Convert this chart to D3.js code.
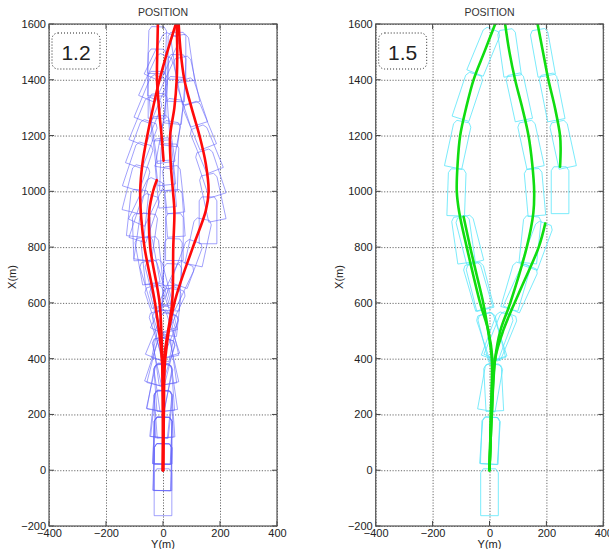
<!DOCTYPE html>
<html>
<head>
<meta charset="utf-8">
<script src="https://cdn.jsdelivr.net/npm/d3@7"></script>
<style>
  body { margin: 0; background: #fff; }
  text { font-family: "Liberation Sans", Arial, Helvetica, sans-serif; }
</style>
</head>
<body>
<svg id="chart" width="609" height="549"></svg>
<script>
// Axis ticks (metres)
const yTicks = [-400, -200, 0, 200, 400];
const xTicks = [-200, 0, 200, 400, 600, 800, 1000, 1200, 1400, 1600];

// Ship hull outline in body axes: [along (m, + forward from bow), across (m)]
const hull = [[0, -22], [-14, -31], [-168, -31], [-168, 31], [-14, 31], [0, 22]];

// ---- Case 1.2 : track points [Y (m), X (m)] ----
const redLeftArc   = [[0,0],[0,200],[-4,400],[-28,600],[-65,800],[-76,900],[-80,1000],[-72,1100],[-55,1200],[-35,1300],[-12,1400],[15,1500],[45,1600]];
const redRightArc  = [[0,0],[3,200],[8,400],[40,600],[105,800],[150,930],[160,1000],[150,1100],[128,1200],[100,1300],[75,1400],[62,1500],[55,1600]];
const redShort     = [[0,0],[0,200],[-3,400],[-12,600],[-45,800],[-48,930],[-35,1000],[-22,1040]];
const redInner     = [[0,0],[1,200],[4,400],[32,600],[36,800],[40,930],[35,1000],[27,1100],[25,1200],[40,1300],[48,1400],[50,1500],[48,1600]];
const redUpper     = [[2,1110],[-5,1200],[-12,1274],[-21,1400],[-20,1500],[-18,1600]];

// Hull stations for case 1.2: [Y (m), X (m) of bow, heading (deg, from +X toward +Y)]
const blueHulls = [
  [0,5,0],
  // left arc
  [0,95,0],[0,190,0],[-1,285,-4],[-3,380,-8],[-10,475,-12],[-23,570,-18],[-38,660,-18],[-55,750,-16],
  [-70,835,-10],[-77,920,-2],[-80,1005,6],[-73,1090,14],[-61,1170,18],[-45,1250,20],[-28,1330,22],
  [-10,1410,22],[11,1485,24],[33,1560,25],
  // right arc
  [1,95,2],[3,190,3],[5,285,6],[7,380,12],[17,470,18],[30,560,22],[55,650,25],[85,740,25],[113,820,20],
  [142,900,12],[158,980,0],[156,1060,-12],[140,1145,-18],[120,1230,-22],[96,1315,-22],[75,1400,-18],
  [64,1480,-12],[57,1560,-8],
  // short track
  [0,190,0],[-1,285,-2],[-2,380,-4],[-6,475,-8],[-10,570,-12],[-20,660,-14],[-36,750,-14],
  [-48,835,-6],[-48,920,8],[-38,985,18],[-22,1040,25],
  // inner track
  [0,95,1],[1,190,2],[2,285,6],[3,380,10],[14,470,14],[25,560,12],[34,650,6],[35,740,3],[37,830,2],
  [40,920,0],[35,1005,-4],[28,1090,-6],[25,1170,2],[32,1250,10],[43,1330,8],[48,1410,5],[50,1490,2],[49,1570,0],
  // upper track
  [2,1110,-5],[-4,1190,-6],[-12,1270,-8],[-18,1350,-4],[-21,1430,0],[-20,1510,1],[-18,1590,2]
];

// ---- Case 1.5 : track points [Y (m), X (m)] ----
const greenLeftArc  = [[0,0],[5,200],[10,400],[-4,500],[-33,600],[-80,800],[-106,922],[-115,1000],[-112,1100],[-103,1200],[-82,1300],[-56,1400],[-18,1500],[20,1600]];
const greenLeftShort = [[0,0],[5,200],[8,400],[-5,500],[-22,600],[-45,700],[-68,800],[-91,909]];
const greenRightArc = [[0,0],[8,200],[20,400],[38,500],[73,600],[131,800],[154,922],[157,1000],[150,1100],[137,1200],[115,1300],[90,1400],[70,1500],[55,1600]];
const greenRightShort = [[0,0],[8,200],[20,400],[49,503],[108,646],[173,800],[196,885]];
const greenUpper    = [[248,1088],[250,1150],[248,1200],[230,1300],[207,1400],[188,1500],[169,1600]];

// Hull stations for case 1.5
const cyanHulls = [
  [0,5,0],
  [5,190,2],[10,380,-3],[-20,560,-18],[-65,740,-16],[-104,910,-8],[-113,1080,2],[-93,1250,12],[-50,1420,18],[12,1580,22],
  [-14,560,-14],[-55,740,-14],[-91,909,-14],
  [8,190,4],[18,380,10],[58,560,20],[116,740,16],[152,910,6],[152,1080,-5],[127,1250,-12],[86,1420,-12],[58,1580,-8],
  [72,560,22],[145,730,24],[196,885,20],
  [248,1088,0],[240,1250,-12],[203,1420,-11],[172,1580,-10]
];

const svg = d3.select("#chart");
const fmt = d3.format("d");

function drawPanel(cfg) {
  const x = d3.scaleLinear().domain([-400, 400]).range([cfg.left, cfg.right]);
  const y = d3.scaleLinear().domain([-200, 1600]).range([526, 24]);
  const w = cfg.right - cfg.left, h = 526 - 24;
  const g = svg.append("g");

  const clipId = "clip-" + cfg.id;
  g.append("clipPath").attr("id", clipId)
    .append("rect").attr("x", cfg.left).attr("y", 24).attr("width", w).attr("height", h);

  // dotted grid
  g.append("g").attr("transform", `translate(0,526)`)
    .call(d3.axisBottom(x).tickValues(yTicks).tickSize(-h).tickFormat(""))
    .call(s => s.select(".domain").remove())
    .selectAll("line").attr("stroke", "#6a6a6a").attr("stroke-dasharray", "1.2,1.6").attr("stroke-width", 1);
  g.append("g").attr("transform", `translate(${cfg.left},0)`)
    .call(d3.axisLeft(y).tickValues(xTicks).tickSize(-w).tickFormat(""))
    .call(s => s.select(".domain").remove())
    .selectAll("line").attr("stroke", "#6a6a6a").attr("stroke-dasharray", "1.2,1.6").attr("stroke-width", 1);

  // tick labels
  const lblB = g.append("g").attr("transform", `translate(0,526)`)
    .call(d3.axisBottom(x).tickValues(yTicks).tickSize(0).tickPadding(3).tickFormat(fmt));
  lblB.select(".domain").remove();
  lblB.selectAll("text").attr("font-size", 11).attr("fill", "#222")
    .attr("font-family", "'Liberation Sans', Arial, sans-serif");
  const lblL = g.append("g").attr("transform", `translate(${cfg.left},0)`)
    .call(d3.axisLeft(y).tickValues(xTicks).tickSize(0).tickPadding(3).tickFormat(fmt));
  lblL.select(".domain").remove();
  lblL.selectAll("text").attr("font-size", 11).attr("fill", "#222")
    .attr("font-family", "'Liberation Sans', Arial, sans-serif");

  const plot = g.append("g").attr("clip-path", `url(#${clipId})`);

  // hull outlines
  const toPx = (st) => {
    const a = st[2] * Math.PI / 180;
    const u = [Math.sin(a), Math.cos(a)];   // forward (Y, X)
    const v = [Math.cos(a), -Math.sin(a)];  // starboard (Y, X)
    return hull.map(([al, ac]) => [
      x(st[0] + al * u[0] + ac * v[0]),
      y(st[1] + al * u[1] + ac * v[1])
    ]);
  };
  plot.selectAll("polygon.hull").data(cfg.hulls).join("polygon")
    .attr("class", "hull")
    .attr("points", d => toPx(d).map(p => p.join(",")).join(" "))
    .attr("fill", "none")
    .attr("stroke", cfg.hullColor)
    .attr("stroke-width", 1);

  // tracks
  const line = d3.line().x(d => x(d[0])).y(d => y(d[1])).curve(d3.curveCatmullRom.alpha(0.5));
  plot.selectAll("path.track").data(cfg.tracks).join("path")
    .attr("class", "track")
    .attr("d", line)
    .attr("fill", "none")
    .attr("stroke", cfg.trackColor)
    .attr("stroke-width", 2.6)
    .attr("stroke-linecap", "round");

  // inward tick marks on all four sides
  const tk = g.append("g").attr("stroke", "#444").attr("stroke-width", 1);
  yTicks.forEach(t => {
    tk.append("line").attr("x1", x(t)).attr("x2", x(t)).attr("y1", 526).attr("y2", 521);
    tk.append("line").attr("x1", x(t)).attr("x2", x(t)).attr("y1", 24).attr("y2", 29);
  });
  xTicks.forEach(t => {
    tk.append("line").attr("x1", cfg.left).attr("x2", cfg.left + 5).attr("y1", y(t)).attr("y2", y(t));
    tk.append("line").attr("x1", cfg.right).attr("x2", cfg.right - 5).attr("y1", y(t)).attr("y2", y(t));
  });

  // frame
  g.append("rect").attr("x", cfg.left).attr("y", 24).attr("width", w).attr("height", h)
    .attr("fill", "none").attr("stroke", "#555").attr("stroke-width", 1.2);

  // title and axis labels
  const mid = (cfg.left + cfg.right) / 2;
  g.append("text").attr("x", mid).attr("y", 16).attr("text-anchor", "middle")
    .attr("font-size", 10.5).attr("fill", "#333").text("POSITION");
  g.append("text").attr("x", x(0)).attr("y", 548).attr("text-anchor", "middle")
    .attr("font-size", 11).attr("fill", "#222").text("Y(m)");
  g.append("text").attr("transform", `translate(${cfg.left - 33},277) rotate(-90)`)
    .attr("text-anchor", "middle").attr("font-size", 11).attr("fill", "#222").text("X(m)");

  // case label box
  g.append("rect").attr("x", cfg.left + 3).attr("y", 33).attr("width", 48).attr("height", 36)
    .attr("rx", 6).attr("ry", 6).attr("fill", "#fff")
    .attr("stroke", "#222").attr("stroke-width", 1).attr("stroke-dasharray", "1,2");
  g.append("text").attr("x", cfg.left + 27).attr("y", 60).attr("text-anchor", "middle")
    .attr("font-size", 21).attr("fill", "#222").text(cfg.label);
}

drawPanel({
  id: "a", left: 49, right: 277, label: "1.2",
  tracks: [redLeftArc, redRightArc, redShort, redInner, redUpper],
  hulls: blueHulls, trackColor: "#ff0a0a", hullColor: "rgba(100,100,250,0.6)"
});
drawPanel({
  id: "b", left: 375.7, right: 603.3, label: "1.5",
  tracks: [greenLeftArc, greenLeftShort, greenRightArc, greenRightShort, greenUpper],
  hulls: cyanHulls, trackColor: "#10dd10", hullColor: "rgba(90,230,250,0.8)"
});
</script>
</body>
</html>
